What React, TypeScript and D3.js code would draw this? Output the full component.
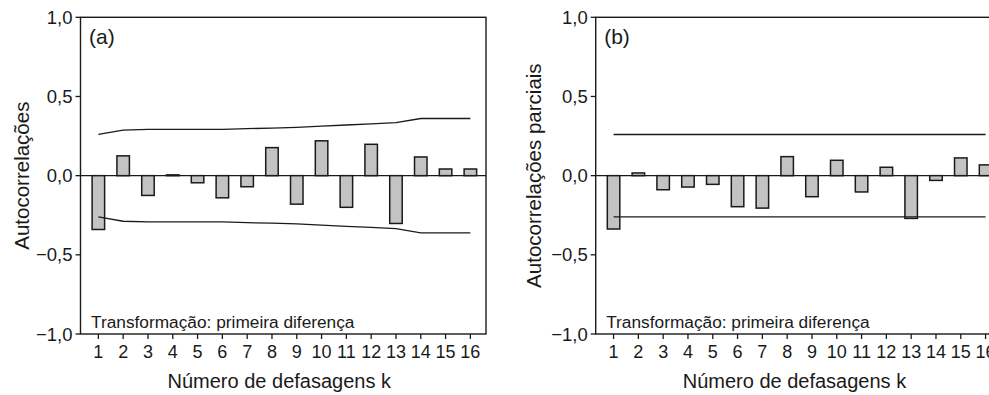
import React from "react";
import * as d3 from "d3";

const lags = [1, 2, 3, 4, 5, 6, 7, 8, 9, 10, 11, 12, 13, 14, 15, 16];
const acfValues = [-0.34, 0.125, -0.125, 0.005, -0.045, -0.14, -0.07, 0.177, -0.18, 0.22, -0.2, 0.198, -0.302, 0.118, 0.042, 0.042];
const acfLimits = [0.26, 0.288, 0.292, 0.292, 0.292, 0.292, 0.297, 0.3, 0.305, 0.313, 0.32, 0.327, 0.335, 0.361, 0.361, 0.361];
const pacfValues = [-0.337, 0.017, -0.089, -0.072, -0.055, -0.196, -0.205, 0.12, -0.133, 0.097, -0.103, 0.053, -0.27, -0.03, 0.112, 0.068];
const pacfLimits = [0.26, 0.26, 0.26, 0.26, 0.26, 0.26, 0.26, 0.26, 0.26, 0.26, 0.26, 0.26, 0.26, 0.26, 0.26, 0.26];
const yTicks = [-1, -0.5, 0, 0.5, 1];
const yTickLabels = ["\u22121,0", "\u22120,5", "0,0", "0,5", "1,0"];
const panelLetters = ["(a)", "(b)"];
const yTitles = ["Autocorrelações", "Autocorrelações parciais"];
const xTitle = "Número de defasagens k";
const note = "Transformação: primeira diferença";

const W = 989;
const H = 395;
const FONT = "'Liberation Sans', Arial, Helvetica, sans-serif";

type PanelProps = {
  x0: number;
  values: number[];
  limits: number[];
  letter: string;
  yTitle: string;
  yTitleX: number;
};

function Panel({ x0, values, limits, letter, yTitle, yTitleX }: PanelProps) {
  const width = 405.5;
  const top = 17.3;
  const bottom = 334;
  const x = d3.scaleLinear().domain([0.28, 16.63]).range([x0, x0 + width]);
  const y = d3.scaleLinear().domain([-1, 1]).range([bottom, top]);
  const barW = 12.5;
  const line = d3
    .line<number>()
    .x((_, i) => x(lags[i]))
    .y((d) => y(d));
  const upper = line(limits) || "";
  const lower = line(limits.map((v) => -v)) || "";
  return (
    <g fontFamily={FONT} fill="#1a1a1a">
      <rect x={x0} y={top} width={width} height={bottom - top} fill="none" stroke="#1a1a1a" strokeWidth={1.4} />
      <line x1={x0} x2={x0 + width} y1={y(0)} y2={y(0)} stroke="#1a1a1a" strokeWidth={1.3} />
      {values.map((v, i) => (
        <rect
          key={i}
          x={x(lags[i]) - barW / 2}
          y={Math.min(y(v), y(0))}
          width={barW}
          height={Math.max(Math.abs(y(v) - y(0)), 0.8)}
          fill="#c3c3c3"
          stroke="#1a1a1a"
          strokeWidth={1.5}
        />
      ))}
      <path d={upper} fill="none" stroke="#1a1a1a" strokeWidth={1.3} />
      <path d={lower} fill="none" stroke="#1a1a1a" strokeWidth={1.3} />
      {yTicks.map((t, i) => (
        <g key={t}>
          <line x1={x0 - 5} x2={x0} y1={y(t)} y2={y(t)} stroke="#1a1a1a" strokeWidth={1.3} />
          <text x={x0 - 8} y={y(t)} dy="0.36em" textAnchor="end" fontSize={18.5}>
            {yTickLabels[i]}
          </text>
        </g>
      ))}
      {lags.map((k) => (
        <g key={k}>
          <line x1={x(k)} x2={x(k)} y1={bottom} y2={bottom + 5} stroke="#1a1a1a" strokeWidth={1.3} />
          <text x={x(k)} y={357.5} textAnchor="middle" fontSize={18}>
            {k}
          </text>
        </g>
      ))}
      <text x={x0 + 8.5} y={44} fontSize={21}>
        {letter}
      </text>
      <text x={x0 + 10.5} y={327.5} fontSize={17.3}>
        {note}
      </text>
      <text x={x0 + width / 2 - 4} y={388} textAnchor="middle" fontSize={20}>
        {xTitle}
      </text>
      <text
        transform={`translate(${yTitleX},${(top + bottom) / 2}) rotate(-90)`}
        textAnchor="middle"
        fontSize={20.5}
      >
        {yTitle}
      </text>
    </g>
  );
}

export default function App() {
  return (
    <svg
      width={W}
      height={H}
      viewBox={`0 0 ${W} ${H}`}
      style={{ position: "absolute", left: 0, top: 0, background: "#fff" }}
    >
      <rect x={0} y={0} width={W} height={H} fill="#fff" />
      <Panel x0={80.5} values={acfValues} limits={acfLimits} letter={panelLetters[0]} yTitle={yTitles[0]} yTitleX={29} />
      <Panel x0={595.7} values={pacfValues} limits={pacfLimits} letter={panelLetters[1]} yTitle={yTitles[1]} yTitleX={541} />
    </svg>
  );
}
